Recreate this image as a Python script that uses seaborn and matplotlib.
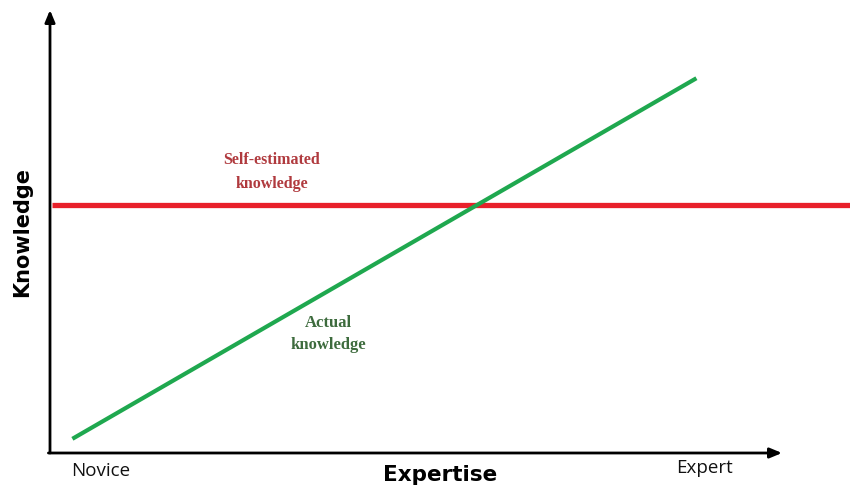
import matplotlib
matplotlib.use("Agg")
import matplotlib.pyplot as plt
import seaborn as sns
import pandas as pd

# Data (abstract units 0-100)
expertise_actual = [2.8, 80.8]
actual_knowledge = [3.2, 84.6]
expertise_self = [0.2, 100.0]
self_estimated = [56.0, 56.0]
tick_labels = ["Novice", "Expert"]

sns.set_theme(style="white")
plt.rcParams['font.family'] = ['DejaVu Sans']

W, H = 850, 500
fig = plt.figure(figsize=(8.5, 5), dpi=100)
ax = fig.add_axes([50 / W, (H - 453) / H, (W - 50) / W, (453 - 10) / H])

df_self = pd.DataFrame({"x": expertise_self, "y": self_estimated})
df_act = pd.DataFrame({"x": expertise_actual, "y": actual_knowledge})
sns.lineplot(data=df_self, x="x", y="y", ax=ax, color="#e8202a", linewidth=3.8,
             solid_capstyle="butt", zorder=2)
sns.lineplot(data=df_act, x="x", y="y", ax=ax, color="#1fa84f", linewidth=3.0,
             solid_capstyle="butt", zorder=3)
ax.set_xlim(0, 100)
ax.set_ylim(0, 100)
ax.axis("off")

# axes arrows (axes fraction)
arrow = dict(arrowstyle="-|>,head_length=0.6,head_width=0.25", color="black", lw=2.0,
             shrinkA=0, shrinkB=0)
ax.annotate("", xy=(0, 1.0), xytext=(0, 0), xycoords="axes fraction", arrowprops=arrow,
            annotation_clip=False)
ax.annotate("", xy=(0.915, 0), xytext=(-0.002, 0), xycoords="axes fraction", arrowprops=arrow,
            annotation_clip=False)

# text
fig.text(101 / W, 1 - 471 / H, tick_labels[0], ha="center", va="center", fontsize=13.5,
         family="Open Sans", color="#111111")
fig.text(704 / W, 1 - 468 / H, tick_labels[1], ha="center", va="center", fontsize=13.5,
         family="Open Sans", color="#111111")
fig.text(440 / W, 1 - 475 / H, "Expertise", ha="center", va="center", fontsize=15.5,
         fontweight="bold", color="black")
fig.text(22 / W, 1 - 232 / H, "Knowledge", ha="center", va="center", fontsize=15,
         fontweight="bold", rotation=90, color="black")

fig.text(272 / W, 1 - 172 / H, "Self-estimated\nknowledge", ha="center", va="center",
         fontsize=11.5, family="Liberation Serif", fontweight="bold", color="#b03a3e",
         linespacing=1.6)
fig.text(328 / W, 1 - 334 / H, "Actual\nknowledge", ha="center", va="center",
         fontsize=12, family="Liberation Serif", fontweight="bold", color="#3d6b3d",
         linespacing=1.5)

fig.savefig("out.png", dpi=100)
